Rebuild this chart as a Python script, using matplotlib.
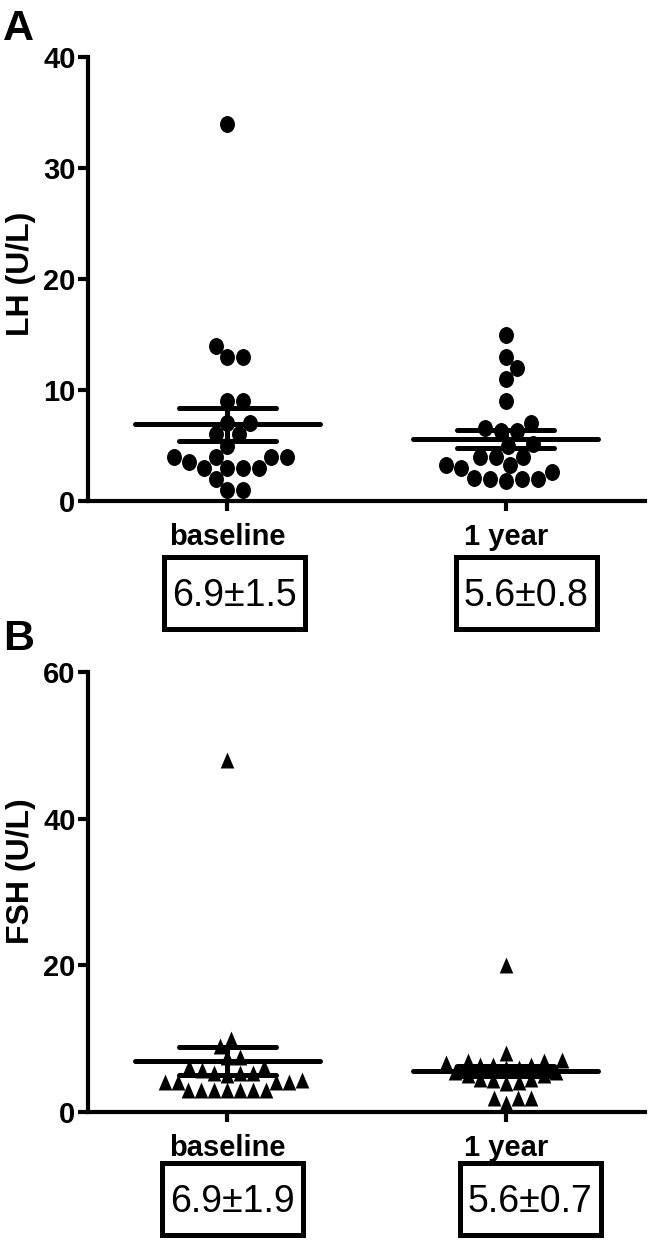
import numpy as np
import matplotlib
matplotlib.use("Agg")
import matplotlib.pyplot as plt
from matplotlib import font_manager, transforms
from matplotlib.patches import Rectangle
from matplotlib.path import Path

# --- dados ---
groups = ["baseline", "1 year"]

lh_baseline = [34, 14, 13, 13, 9, 9, 7, 7, 6, 6, 5, 4, 4, 4, 4,
               3, 3, 3.5, 3, 3, 2, 1, 1]
lh_1year = [15, 13, 12, 11, 9, 7, 6.3, 6.3, 6.6, 5.1, 5, 4, 3.2, 3,
            2.1, 2, 1.8, 2, 2, 2.6, 3.2, 4, 4]
fsh_baseline = [48, 10, 9, 7.5, 7.5, 6.2, 6.2, 5.3, 5.0, 4.4, 4.1, 4.1,
                5.3, 5.3, 5.7, 4.1, 4.1, 3, 3, 3, 3, 3, 3, 3]
fsh_1year = [20, 8, 7.1, 6.9, 6.9, 6.7, 6.4, 6.4, 6.4, 4.4, 3.9, 4.1,
             1.9, 1.9, 1.9, 1.2, 6, 6, 5.5, 5.5, 5, 5, 4.5, 4.5]

# media e EPM como impressos nas caixas
lh_mean = [6.9, 5.6]
lh_sem = [1.5, 0.8]
fsh_mean = [6.9, 5.6]
fsh_sem = [1.9, 0.7]

# --- fontes ---
names = {f.name for f in font_manager.fontManager.ttflist}
narrow = "Liberation Sans Narrow" if "Liberation Sans Narrow" in names else "Liberation Sans"
wide = "Liberation Sans"

FW, FH = 650, 1240
fig = plt.figure(figsize=(FW / 100, FH / 100), dpi=100)

AX_LEFT, AX_RIGHT = 88, 645
XPX = (AX_RIGHT - AX_LEFT) / 2.0  # pixels por unidade em x (xlim -0.5..1.5)


def swarm(vals, ypx, d):
    # posicoes x (em pixels) tipo beeswarm, pontos em ordem crescente
    vals = np.asarray(vals, float)
    y = vals * ypx
    xs = np.zeros(len(vals))
    placed = []
    for i in np.argsort(vals, kind="stable"):
        near = [(px, py) for px, py in placed if abs(py - y[i]) < d]
        cands = [0.0]
        for px, py in near:
            dx = np.sqrt(d ** 2 - (py - y[i]) ** 2)
            cands += [px + dx, px - dx]
        cands.sort(key=abs)
        for c in cands:
            if all((c - px) ** 2 + (y[i] - py) ** 2 >= d ** 2 - 1e-6 for px, py in near):
                break
        xs[i] = c
        placed.append((c, y[i]))
    return xs / XPX


circ = Path.unit_circle()
ellipse = Path(circ.vertices * [0.88, 1.0], circ.codes)
tri = Path([(0, 1), (-0.85, -1), (0.85, -1), (0, 1)],
           [Path.MOVETO, Path.LINETO, Path.LINETO, Path.CLOSEPOLY])


def panel(top, bottom, series, means, sems, ymax, yticks, ylabel, ylab_y,
          marker, msize, d, box_top, box_bottom, box_cx, letter, letter_base):
    ax = fig.add_axes([AX_LEFT / FW, 1 - bottom / FH,
                       (AX_RIGHT - AX_LEFT) / FW, (bottom - top) / FH])
    ypx = (bottom - top) / ymax

    for i, vals in enumerate(series):
        xo = swarm(vals, ypx, d)
        ax.plot(i + xo, vals, linestyle="none", marker=marker, markersize=msize,
                color="black", markeredgewidth=0, clip_on=False, zorder=3)

    for i, (m, s) in enumerate(zip(means, sems)):
        kw = dict(color="black", lw=3.6, solid_capstyle="round", zorder=4)
        ax.plot([i - 0.333, i + 0.333], [m, m], **kw)
        ax.plot([i, i], [m - s, m + s], **kw)
        ax.plot([i - 0.175, i + 0.175], [m + s, m + s], **kw)
        ax.plot([i - 0.175, i + 0.175], [m - s, m - s], **kw)

    ax.set_xlim(-0.5, 1.5)
    ax.set_ylim(0, ymax)
    ax.set_yticks(yticks)
    ax.set_xticks(range(len(groups)))
    ax.set_xticklabels(groups)
    for sp in ["top", "right"]:
        ax.spines[sp].set_visible(False)
    for sp in ["left", "bottom"]:
        ax.spines[sp].set_linewidth(3)
    ax.tick_params(axis="both", direction="out", length=7, width=3)
    ax.tick_params(axis="y", pad=2)
    ax.tick_params(axis="x", pad=9)
    for lab in ax.get_yticklabels() + ax.get_xticklabels():
        lab.set_fontfamily(narrow)
        lab.set_fontweight("bold")
        lab.set_fontsize(21)

    ax.set_ylabel(ylabel, fontfamily=wide, fontweight="bold", fontsize=23)
    ax.yaxis.set_label_coords((36 - AX_LEFT) / (AX_RIGHT - AX_LEFT),
                              (bottom - ylab_y) / (bottom - top))

    # caixas com media +- EPM
    trans = transforms.blended_transform_factory(ax.transData, fig.transFigure)
    bw = 141 / XPX
    for i, (m, s) in enumerate(zip(means, sems)):
        cx = (box_cx[i] - (AX_LEFT + XPX * 0.5)) / XPX
        fig.add_artist(Rectangle((cx - bw / 2, 1 - box_bottom / FH), bw,
                                 (box_bottom - box_top) / FH, transform=trans,
                                 fill=False, lw=3.6, edgecolor="black"))
        base = box_bottom - 23
        ax.text(cx, 1 - base / FH, f"{m:.1f}\u00b1{s:.1f}", transform=trans,
                ha="center", va="baseline", fontsize=27, fontfamily=narrow)

    fig.text(3 / FW, 1 - letter_base / FH, letter, fontsize=31,
             fontweight="bold", fontfamily=wide, va="baseline", ha="left")
    return ax


panel(57, 501, [lh_baseline, lh_1year], lh_mean, lh_sem, 40, [0, 10, 20, 30, 40],
      "LH (U/L)", 274, ellipse, 12.2, 16, 557, 629, [234, 526], "A", 40)
panel(672, 1112, [fsh_baseline, fsh_1year], fsh_mean, fsh_sem, 60, [0, 20, 40, 60],
      "FSH (U/L)", 871, tri, 11.5, 13, 1163, 1235, [232, 530], "B", 650)

fig.savefig("out.png", dpi=100)
